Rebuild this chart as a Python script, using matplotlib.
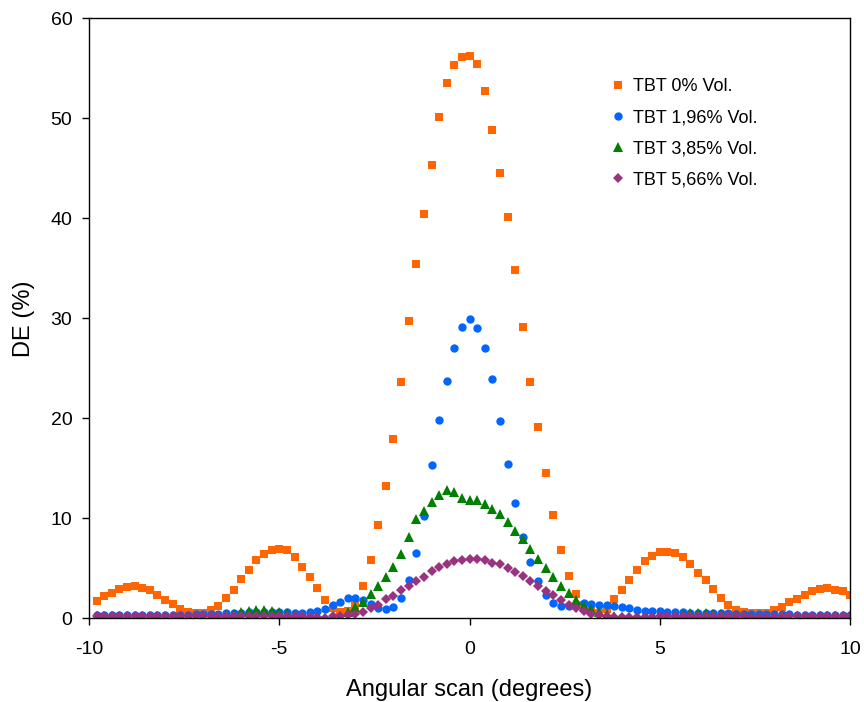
import numpy as np
import matplotlib
matplotlib.use("Agg")
import matplotlib.pyplot as plt

plt.rcParams['font.family'] = ['Liberation Sans', 'DejaVu Sans']
plt.rcParams['axes.unicode_minus'] = False

# angular scan positions (degrees), 0.2 deg step
angle = np.round(np.linspace(-9.8, 10.0, 100), 1)

# diffraction efficiency (%) for each TBT concentration
de_0 = [1.75, 2.28, 2.56, 2.96, 3.12, 3.22, 3.06, 2.82, 2.38, 1.88,
        1.48, 0.98, 0.64, 0.54, 0.54, 0.88, 1.21, 2.01, 2.89, 3.96,
        4.87, 5.8, 6.4, 6.84, 6.98, 6.84, 6.18, 5.13, 4.1, 3.06,
        1.88, 1.05, 0.6, 0.7, 1.38, 3.22, 5.8, 9.3, 13.2, 17.9,
        23.6, 29.7, 35.4, 40.4, 45.3, 50.1, 53.5, 55.3, 56.1, 56.2,
        55.4, 52.7, 48.8, 44.5, 40.1, 34.8, 29.1, 23.6, 19.1, 14.5,
        10.3, 6.8, 4.2, 2.45, 1.35, 0.8, 0.5, 0.9, 1.9, 2.85,
        3.8, 4.85, 5.75, 6.25, 6.65, 6.65, 6.5, 6.1, 5.45, 4.55,
        3.8, 2.9, 2.0, 1.35, 0.85, 0.6, 0.5, 0.5, 0.5, 0.85,
        1.1, 1.6, 1.95, 2.35, 2.75, 2.9, 3.0, 2.85, 2.75, 2.35]

de_196 = [0.35, 0.35, 0.35, 0.35, 0.35, 0.35, 0.35, 0.35, 0.35, 0.35,
          0.35, 0.35, 0.35, 0.4, 0.4,
          0.4, 0.45, 0.5, 0.5, 0.55, 0.6, 0.65, 0.65, 0.65,
          0.65, 0.6, 0.55, 0.5, 0.6, 0.7, 0.95, 1.3, 1.6, 2.0,
          2.0, 1.8, 1.4, 1.0, 0.95, 1.1, 2.0, 3.85, 6.5, 10.25,
          15.3, 19.8, 23.7, 27.05, 29.1, 29.9,
          29.0, 27.05, 23.95, 19.7, 15.4, 11.55, 8.1, 5.6, 3.7, 2.3,
          1.55, 1.2, 1.25, 1.45, 1.5, 1.45, 1.3, 1.35, 1.25, 1.1,
          1.0, 0.85, 0.75, 0.75, 0.7,
          0.65, 0.6, 0.6, 0.55, 0.55, 0.5, 0.5, 0.5, 0.5, 0.45,
          0.45, 0.45, 0.4, 0.4, 0.4, 0.4, 0.4, 0.35, 0.35, 0.35,
          0.35, 0.35, 0.35, 0.35, 0.35]

de_385 = [0.2, 0.2, 0.2, 0.15, 0.15, 0.1, 0.1,
          0.05, 0.0, 0.0, 0.0, 0.0, 0.0, 0.0, 0.05,
          0.1, 0.2, 0.3, 0.45, 0.6, 0.7, 0.8, 0.8, 0.75,
          0.6, 0.5, 0.35, 0.2, 0.1, 0.05, 0.05, 0.1, 0.25,
          0.6, 1.1, 1.6, 2.4, 3.2, 4.1, 5.1, 6.45, 8.1, 9.9,
          10.7, 11.6, 12.35, 12.85, 12.6, 12.0, 11.85, 11.8, 11.45, 10.9,
          10.4, 9.6, 8.7, 7.9, 6.9, 5.9, 5.0, 4.1, 3.25, 2.5,
          1.8, 1.25, 0.9, 0.6, 0.4, 0.2, 0.1, 0.0, 0.0, 0.0,
          0.05, 0.15,
          0.25, 0.35, 0.45, 0.5, 0.5, 0.5, 0.45, 0.4, 0.35, 0.3,
          0.2, 0.15, 0.1, 0.05, 0.0, 0.0, 0.0, 0.05, 0.1, 0.15,
          0.2, 0.2, 0.2, 0.2, 0.2]

de_566 = [0.2, 0.2, 0.2, 0.2, 0.2, 0.2, 0.2, 0.2, 0.2, 0.2,
          0.2, 0.2, 0.2, 0.2, 0.2, 0.2, 0.2, 0.25, 0.25, 0.25,
          0.25, 0.25, 0.25, 0.25,
          0.25, 0.2, 0.2, 0.2, 0.1, 0.1, 0.0, 0.2, 0.2, 0.35,
          0.45, 0.65, 1.05, 1.3, 1.95, 2.2, 2.85, 3.2, 3.7, 4.1,
          4.7, 5.1, 5.4, 5.7, 5.8,
          5.95, 5.95, 5.8, 5.5, 5.4, 5.0, 4.6, 4.2, 3.75, 3.25,
          2.7, 2.3, 1.8, 1.3, 1.05, 0.75, 0.45, 0.3, 0.2, 0.1,
          0.1, 0.1, 0.1, 0.1, 0.15, 0.2,
          0.2, 0.25, 0.25, 0.25, 0.25, 0.25, 0.25, 0.2, 0.2, 0.2,
          0.2, 0.1, 0.1, 0.1, 0.15, 0.2, 0.2, 0.2, 0.2, 0.2,
          0.2, 0.2, 0.2, 0.2, 0.25]

labels = ["TBT 0% Vol.", "TBT 1,96% Vol.", "TBT 3,85% Vol.", "TBT 5,66% Vol."]
series = [de_0, de_196, de_385, de_566]
colors = ["#FF6600", "#0066FF", "#008000", "#993380"]
markers = ["s", "o", "^", "D"]
sizes = [5.5, 6, 6.5, 5]

fig = plt.figure(figsize=(8.64, 7.02), dpi=100)
ax = fig.add_axes([0.103, 0.119, 0.881, 0.855])

for y, lab, c, m, s in zip(series, labels, colors, markers, sizes):
    ax.plot(angle, y, linestyle="none", marker=m, markersize=s, color=c,
            markeredgewidth=0, label=lab)

ax.set_xlim(-10, 10)
ax.set_ylim(0, 60)
ax.set_xticks([-10, -5, 0, 5, 10])
ax.set_yticks(range(0, 61, 10))
ax.tick_params(direction="out", length=5, width=1, labelsize=14)
ax.tick_params(axis="x", pad=11)
ax.tick_params(axis="y", pad=7)
for sp in ax.spines.values():
    sp.set_linewidth(1)
ax.set_xlabel("Angular scan (degrees)", fontsize=17, labelpad=15)
ax.set_ylabel("DE (%)", fontsize=17, labelpad=11)

ax.legend(loc="upper left", bbox_to_anchor=(0.662, 0.927), frameon=False,
          fontsize=13, handlelength=1.0, handletextpad=0.3, labelspacing=0.78,
          markerscale=1.0)

fig.savefig("out.png", dpi=100)
